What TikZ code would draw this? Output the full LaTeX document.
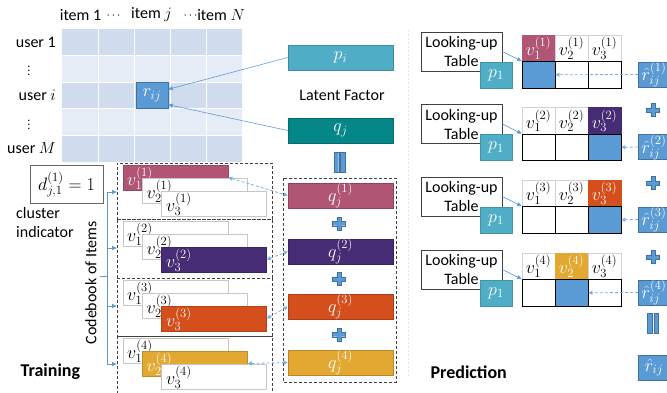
\RequirePackage{fix-cm}
\documentclass[tikz,border=0pt]{standalone}
\usepackage{fontspec}
\setmainfont{Carlito}
\usetikzlibrary{arrows.meta}

\definecolor{gridA}{HTML}{D0DBEE}
\definecolor{gridB}{HTML}{E6ECF6}
\definecolor{cblue}{HTML}{5B9BD5}
\definecolor{cbluedk}{HTML}{41719C}
\definecolor{cteal}{HTML}{4FADC5}
\definecolor{cqj}{HTML}{05878A}
\definecolor{craspb}{HTML}{B05573}
\definecolor{cpurple}{HTML}{452C74}
\definecolor{corange}{HTML}{D54F1D}
\definecolor{cgold}{HTML}{E3A832}
\definecolor{cdash}{HTML}{7DB0E0}

\tikzset{
  mth/.style={font=\fontsize{18}{20}\selectfont},
  vbox/.style={draw=gray!45, fill=white, line width=0.6pt, minimum width=105pt, minimum height=25pt, inner sep=0pt},
  vfill/.style={vbox, draw=#1!85!black, fill=#1},
  qbox/.style={mth, draw=#1!80!black, fill=#1, line width=0.5pt, minimum width=105pt, minimum height=25pt, inner sep=0pt, text=white},
  vlab/.style={mth, anchor=base west, inner sep=0pt},
  grpbox/.style={draw=black!75, dash pattern=on 3pt off 2pt, line width=0.7pt, minimum width=155pt, inner sep=0pt},
  hcell/.style={mth, draw=gray!35, fill=white, line width=0.6pt, minimum width=33pt, minimum height=26.5pt, inner sep=0pt},
  hfill/.style={hcell, draw=#1, fill=#1, text=white},
  rcell/.style={draw=black, fill=white, line width=0.8pt, minimum width=33pt, minimum height=26.5pt, inner sep=0pt},
  rsel/.style={rcell, fill=cblue},
  lookbox/.style={draw=black!75, fill=white, line width=0.7pt, minimum width=81pt, minimum height=39pt, align=center, inner sep=0pt},
  pbox/.style={mth, fill=cteal, draw=cteal!85!black, line width=0.4pt, minimum width=32pt, minimum height=26pt, inner sep=0pt, text=white},
  rhat/.style={mth, fill=cblue, draw=cbluedk, line width=0.5pt, minimum width=32pt, minimum height=25pt, inner sep=0pt, text=white},
  rowlab/.style={inner sep=0pt},
  dotlab/.style={inner sep=0pt, font=\fontsize{12}{14}\selectfont},
  conn/.style={cblue, line width=0.6pt, -{Triangle[length=4.5pt,width=4pt]}},
  dconn/.style={cdash, dash pattern=on 3pt off 2pt, line width=0.8pt, -{Triangle[length=4pt,width=4pt]}},
  ddconn/.style={dconn, {Triangle[length=4pt,width=4pt]}-{Triangle[length=4pt,width=4pt]}},
  plussign/.pic={\filldraw[fill=cblue, draw=cbluedk, line width=0.4pt] (-6.5,-2.2) -- (-2.2,-2.2) -- (-2.2,-6.5) -- (2.2,-6.5) -- (2.2,-2.2) -- (6.5,-2.2) -- (6.5,2.2) -- (2.2,2.2) -- (2.2,6.5) -- (-2.2,6.5) -- (-2.2,2.2) -- (-6.5,2.2) -- cycle;},
  eqsign/.pic={\filldraw[fill=cblue, draw=cbluedk, line width=0.4pt] (-5.5,-10) rectangle (-0.8,10) (0.8,-10) rectangle (5.5,10);}
}

\begin{document}
\begin{tikzpicture}[x=1pt,y=1pt,yscale=-1,font=\fontsize{16}{19}\selectfont]
\useasboundingbox (0,0) rectangle (667,392);

%Shape: Rating matrix
\fill[gridA] (62,29) rectangle (242,55.5);
\fill[gridB] (62,55.5) rectangle (242,82);
\fill[gridA] (62,82) rectangle (242,108.5);
\fill[gridB] (62,108.5) rectangle (242,135);
\fill[gridA] (62,135) rectangle (242,161.5);
\draw[white, line width=1pt] (62,55.5) -- (242,55.5) (62,82) -- (242,82) (62,108.5) -- (242,108.5) (62,135) -- (242,135);
\draw[white, line width=1pt] (98,29) -- (98,161.5) (134,29) -- (134,161.5) (170,29) -- (170,161.5) (206,29) -- (206,161.5);

% Text Node
\node[rowlab] (it1) at (80.5,15) {item 1};
\node[dotlab] (itd1) at (113.5,16) {$\cdots$};
\node[rowlab] (itj) at (151.5,15) {item $j$};
\node[dotlab] (itd2) at (190.5,16) {$\cdots$};
\node[rowlab] (itN) at (221,15) {item $N$};
\node[rowlab, anchor=east] (u1) at (56,42) {user 1};
\node[dotlab] (ud1) at (29,68) {$\vdots$};
\node[rowlab, anchor=east] (ui) at (56,95.5) {user $i$};
\node[dotlab] (ud2) at (29,122) {$\vdots$};
\node[rowlab, anchor=east] (uM) at (56,148.5) {user $M$};

\node[rhat, minimum height=26pt] (rij) at (152,95.25) {$r_{ij}$};

%Latent factors
\node[qbox=cteal] (pi) at (340.5,57.5) {$p_i$};
\node (latent) at (342,95) {Latent Factor};
\node[qbox=cqj] (qj) at (340.5,130.5) {$q_j$};
\draw[conn] (pi.west) -- (rij.20);
\draw[conn] (qj.west) -- (rij.-30);
\pic at (339.5,162.5) {eqsign};

%Shape: Dashed box of q_j parts
\draw[black!75, dash pattern=on 3pt off 2pt, line width=0.7pt] (283,178) rectangle (396,382);
\node[qbox=craspb] (q1) at (340.5,195.5) {$q_j^{(1)}$};
\node[qbox=cpurple] (q2) at (340.5,251.5) {$q_j^{(2)}$};
\node[qbox=corange] (q3) at (340.5,306.5) {$q_j^{(3)}$};
\node[qbox=cgold] (q4) at (340.5,362.5) {$q_j^{(4)}$};
\pic at (339,223.5) {plussign};
\pic at (339,279) {plussign};
\pic at (339,334.5) {plussign};

%Cluster indicator
\node[mth, draw=black!60, line width=0.8pt, minimum width=73pt, minimum height=38pt, inner sep=0pt] (dind) at (66.5,184) {$d_{j,1}^{(1)}=1$};
\node[anchor=west, align=left, inner sep=0pt] (cind) at (16,222) {cluster\\indicator};

%Codebook groups
\node[grpbox, minimum height=56pt] (grp1) at (194.5,191) {};
\node[grpbox, minimum height=59pt] (grp2) at (194.5,248.5) {};
\node[grpbox, minimum height=58pt] (grp3) at (194.5,307) {};
\node[grpbox, minimum height=60pt] (grp4) at (194.5,366) {};

% group 1
\node[vfill=craspb] (v11) at (175.5,177.5) {};
\node[vlab, text=white] (l11) at (127,185.5) {$v_1^{(1)}$};
\node[vbox] (v12) at (195,190.5) {};
\node[vlab] (l12) at (146.5,198.5) {$v_2^{(1)}$};
\node[vbox] (v13) at (214,203.5) {};
\node[vlab] (l13) at (166,211.5) {$v_3^{(1)}$};
% group 2
\node[vbox] (v21) at (175.5,233.5) {};
\node[vlab] (l21) at (127,241.5) {$v_1^{(2)}$};
\node[vbox] (v22) at (195,246.5) {};
\node[vlab] (l22) at (146.5,254.5) {$v_2^{(2)}$};
\node[vfill=cpurple] (v23) at (214,259.5) {};
\node[vlab, text=white] (l23) at (166,267.5) {$v_3^{(2)}$};
% group 3
\node[vbox] (v31) at (175.5,292.5) {};
\node[vlab] (l31) at (127,300.5) {$v_1^{(3)}$};
\node[vbox] (v32) at (195,305.5) {};
\node[vlab] (l32) at (146.5,313.5) {$v_2^{(3)}$};
\node[vfill=corange] (v33) at (214,318.5) {};
\node[vlab, text=white] (l33) at (166,326.5) {$v_3^{(3)}$};
% group 4
\node[vbox] (v41) at (175.5,350.5) {};
\node[vlab] (l41) at (127,358.5) {$v_1^{(4)}$};
\node[vfill=cgold] (v42) at (195,363.5) {};
\node[vlab, text=white] (l42) at (146.5,371.5) {$v_2^{(4)}$};
\node[vbox] (v43) at (214,376.5) {};
\node[vlab] (l43) at (166,384.5) {$v_3^{(4)}$};

%Dashed links codebook -- q_j parts
\draw[ddconn] (v11.east) -- (q1.west);
\draw[ddconn] (v23.east) -- (q2.west);
\draw[ddconn] (v33.east) -- (q3.west);
\draw[ddconn] (v42.east) -- (q4.west);

%Codebook bracket
\coordinate (cb1) at (107,192);
\coordinate (cb2) at (107,248);
\coordinate (cb3) at (107,306);
\coordinate (cb4) at (107,364);
\coordinate (cbm) at (107,276);
\draw[cblue, line width=0.6pt] (cb1) -- (cb4);
\draw[cblue, line width=0.6pt] (cbm) -- ++(-7,0);
\draw[conn] (cb1) -- (cb1 -| grp1.west);
\draw[conn] (cb2) -- (cb2 -| grp2.west);
\draw[conn] (cb3) -- (cb3 -| grp3.west);
\draw[conn] (cb4) -- (cb4 -| grp4.west);
\node[rotate=90] (cbook) at (91,283) {Codebook of Items};

\node[anchor=west, font=\fontsize{18}{20}\selectfont\bfseries] (train) at (17,372) {Training};

%Separator
\draw[gray!20, dash pattern=on 2pt off 2pt, line width=0.8pt] (408,30) -- (408,378);

%Prediction group 1
\node[lookbox] (look1) at (461.5,51.5) {Looking-up\\Table};
\node[hfill=craspb] (h11) at (538.5,48.25) {$v_1^{(1)}$};
\node[hcell] (h12) at (571.5,48.25) {$v_2^{(1)}$};
\node[hcell] (h13) at (604.5,48.25) {$v_3^{(1)}$};
\node[rsel] (c11) at (538.5,74.75) {};
\node[rcell] (c12) at (571.5,74.75) {};
\node[rcell] (c13) at (604.5,74.75) {};
\node[pbox] (pa) at (496,75) {$p_1$};
\node[rhat] (rh1) at (654,74.5) {$\hat{r}_{ij}^{(1)}$};
\draw[conn] (look1.east) -- (c11.north west);
\draw[dconn] (rh1.west) -- (c11.east);

%Prediction group 2
\node[lookbox] (look2) at (461.5,124) {Looking-up\\Table};
\node[hcell] (h21) at (538.5,120.75) {$v_1^{(2)}$};
\node[hcell] (h22) at (571.5,120.75) {$v_2^{(2)}$};
\node[hfill=cpurple] (h23) at (604.5,120.75) {$v_3^{(2)}$};
\node[rcell] (c21) at (538.5,147.25) {};
\node[rcell] (c22) at (571.5,147.25) {};
\node[rsel] (c23) at (604.5,147.25) {};
\node[pbox] (pb) at (496,147.5) {$p_1$};
\node[rhat] (rh2) at (654,147) {$\hat{r}_{ij}^{(2)}$};
\draw[conn] (look2.east) -- (c21.north west);
\draw[dconn] (rh2.west) -- (c23.east);

%Prediction group 3
\node[lookbox] (look3) at (461.5,196.5) {Looking-up\\Table};
\node[hcell] (h31) at (538.5,193.25) {$v_1^{(3)}$};
\node[hcell] (h32) at (571.5,193.25) {$v_2^{(3)}$};
\node[hfill=corange] (h33) at (604.5,193.25) {$v_3^{(3)}$};
\node[rcell] (c31) at (538.5,219.75) {};
\node[rcell] (c32) at (571.5,219.75) {};
\node[rsel] (c33) at (604.5,219.75) {};
\node[pbox] (pc) at (496,220) {$p_1$};
\node[rhat] (rh3) at (654,219.5) {$\hat{r}_{ij}^{(3)}$};
\draw[conn] (look3.east) -- (c31.north west);
\draw[dconn] (rh3.west) -- (c33.east);

%Prediction group 4
\node[lookbox] (look4) at (461.5,269.5) {Looking-up\\Table};
\node[hcell] (h41) at (538.5,266.25) {$v_1^{(4)}$};
\node[hfill=cgold] (h42) at (571.5,266.25) {$v_2^{(4)}$};
\node[hcell] (h43) at (604.5,266.25) {$v_3^{(4)}$};
\node[rcell] (c41) at (538.5,292.75) {};
\node[rsel] (c42) at (571.5,292.75) {};
\node[rcell] (c43) at (604.5,292.75) {};
\node[pbox] (pd) at (496,293) {$p_1$};
\node[rhat] (rh4) at (654,292.5) {$\hat{r}_{ij}^{(4)}$};
\draw[conn] (look4.east) -- (c41.north west);
\draw[dconn] (rh4.west) -- (c42.east);

\pic at (653,110) {plussign};
\pic at (653,183) {plussign};
\pic at (653,257) {plussign};
\pic at (653,323) {eqsign};
\node[rhat] (rhat) at (654,367.5) {$\hat{r}_{ij}$};

\node[anchor=west, font=\fontsize{18}{20}\selectfont\bfseries] (pred) at (427,372) {Prediction};

\end{tikzpicture}
\end{document}
